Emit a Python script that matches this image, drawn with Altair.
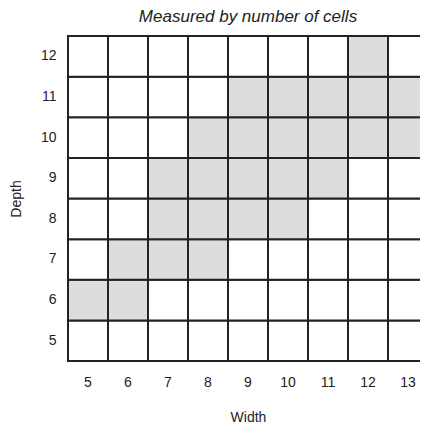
import altair as alt
import pandas as pd

widths = [5, 6, 7, 8, 9, 10, 11, 12, 13]
depths = [5, 6, 7, 8, 9, 10, 11, 12]
# shaded cells per depth row (list of widths)
shaded = {
    12: [12],
    11: [9, 10, 11, 12, 13],
    10: [8, 9, 10, 11, 12, 13],
    9: [7, 8, 9, 10, 11],
    8: [7, 8, 9, 10],
    7: [6, 7, 8],
    6: [5, 6],
    5: [],
}

rows = []
for d in depths:
    for w in widths:
        rows.append({"Width": w, "Depth": d, "on": "yes" if w in shaded[d] else "no"})
df = pd.DataFrame(rows)

font = "Liberation Sans"
txt = "#222222"
chart = alt.Chart(df).mark_rect(stroke="#222222", strokeWidth=2).encode(
    x=alt.X("Width:O", sort=widths, scale=alt.Scale(range=[0, 360]),
            axis=alt.Axis(domain=False, ticks=False, labelAngle=0, labelPadding=14,
                          labelFontSize=14, labelColor=txt, labelFont=font,
                          titleFont=font, titleFontSize=14, titleFontWeight="normal",
                          titleColor=txt, titlePadding=21, titleX=180)),
    y=alt.Y("Depth:O", sort=list(reversed(depths)),
            axis=alt.Axis(domain=False, ticks=False, labelPadding=12,
                          labelFontSize=14, labelColor=txt, labelFont=font,
                          titleFont=font, titleFontSize=14, titleFontWeight="normal",
                          titleColor=txt, titlePadding=17)),
    color=alt.Color("on:N", scale=alt.Scale(domain=["yes", "no"], range=["#dcdddf", "#ffffff"]),
                    legend=None),
).properties(
    width=352, height=325,
    title=alt.TitleParams("Measured by number of cells", font=font, fontSize=17,
                          fontStyle="italic", fontWeight="normal", color=txt,
                          anchor="middle", offset=9, dx=4),
    padding={"left": 60, "top": 28, "right": 0, "bottom": 62},
    autosize=alt.AutoSizeParams(type="none"),
).configure_view(stroke=None).configure_scale(bandPaddingInner=0, bandPaddingOuter=0)

chart.save("out.html", embed_options={"renderer": "svg", "actions": False})
